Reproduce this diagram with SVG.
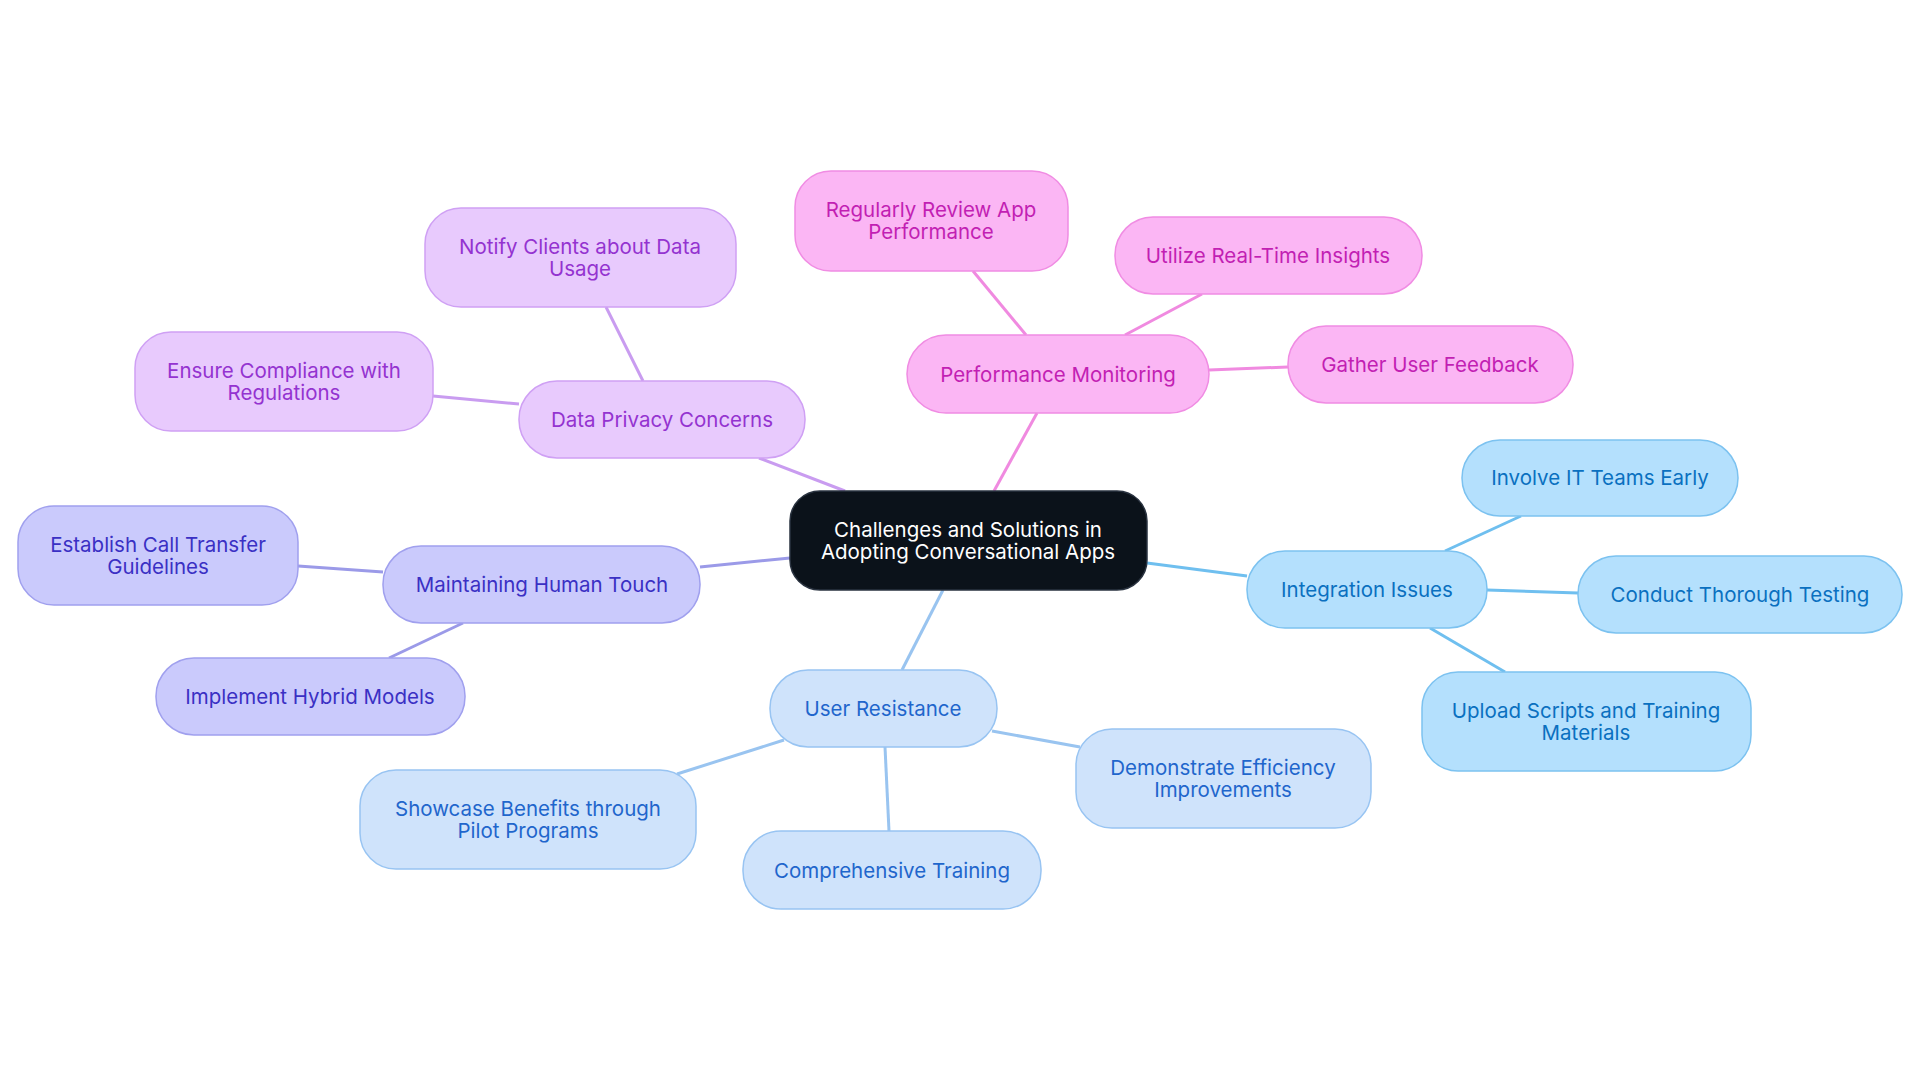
<svg xmlns="http://www.w3.org/2000/svg" width="1920" height="1083" viewBox="0 0 1920 1083">
<style>
text{font-family:Inter,"Open Sans","Liberation Sans",sans-serif;font-size:20.5px;text-anchor:middle;dominant-baseline:central}
rect{stroke-width:1.5}
.c rect{fill:#0b121a;stroke:#2a3340}.c text{fill:#fff}
.pk rect{fill:#fbb6f4;stroke:#f08ce3}.pk text{fill:#c21fb3}
.pu rect{fill:#e8cafd;stroke:#cfa0f4}.pu text{fill:#9433d0}
.in rect{fill:#cacafc;stroke:#a0a0ee}.in text{fill:#3a30c4}
.lb rect{fill:#cfe3fb;stroke:#98c4f2}.lb text{fill:#1f66cc}
.sk rect{fill:#b4e0fd;stroke:#7cc2f0}.sk text{fill:#0a70c0}
#edges line{stroke-width:3}
.epk{stroke:#f08ae0}.epu{stroke:#c99cf0}.ein{stroke:#9b9ae8}.elb{stroke:#99c4f0}.esk{stroke:#6fbfef}
</style>
<rect width="1920" height="1083" fill="#fff"/>
<g id="edges">
<line class="epk" x1="994" y1="491" x2="1037" y2="413"/>
<line class="epk" x1="1026" y1="335" x2="973" y2="271"/>
<line class="epk" x1="1125" y1="335" x2="1202" y2="294"/>
<line class="epk" x1="1209" y1="370" x2="1288" y2="367"/>
<line class="epu" x1="845" y1="491" x2="759" y2="458"/>
<line class="epu" x1="643" y1="381" x2="606" y2="307"/>
<line class="epu" x1="519" y1="404" x2="433" y2="396"/>
<line class="ein" x1="790" y1="558" x2="700" y2="567"/>
<line class="ein" x1="383" y1="572" x2="298" y2="566"/>
<line class="ein" x1="463" y1="623" x2="389" y2="658"/>
<line class="elb" x1="943" y1="590" x2="902" y2="670"/>
<line class="elb" x1="784" y1="740" x2="677" y2="774"/>
<line class="elb" x1="885" y1="747" x2="889" y2="831"/>
<line class="elb" x1="992" y1="731" x2="1080" y2="747"/>
<line class="esk" x1="1147" y1="563" x2="1247" y2="576"/>
<line class="esk" x1="1445" y1="551" x2="1521" y2="516"/>
<line class="esk" x1="1487" y1="590" x2="1578" y2="593"/>
<line class="esk" x1="1430" y1="628" x2="1505" y2="672"/>
</g>
<g id="center" class="c"><rect x="790" y="491" width="357" height="99" rx="30"/><text x="968" y="529">Challenges and Solutions in</text><text x="968" y="551">Adopting Conversational Apps</text></g>
<g id="pm" class="pk"><rect x="907" y="335" width="302" height="78" rx="39"/><text x="1058" y="374">Performance Monitoring</text></g>
<g id="rr" class="pk"><rect x="795" y="171" width="273" height="100" rx="36"/><text x="931" y="209">Regularly Review App</text><text x="931" y="231">Performance</text></g>
<g id="ut" class="pk"><rect x="1115" y="217" width="307" height="77" rx="38"/><text x="1268" y="255">Utilize Real-Time Insights</text></g>
<g id="gu" class="pk"><rect x="1288" y="326" width="285" height="77" rx="38"/><text x="1430" y="364">Gather User Feedback</text></g>
<g id="dp" class="pu"><rect x="519" y="381" width="286" height="77" rx="38"/><text x="662" y="419">Data Privacy Concerns</text></g>
<g id="nc" class="pu"><rect x="425" y="208" width="311" height="99" rx="36"/><text x="580" y="246">Notify Clients about Data</text><text x="580" y="268">Usage</text></g>
<g id="ec" class="pu"><rect x="135" y="332" width="298" height="99" rx="36"/><text x="284" y="370">Ensure Compliance with</text><text x="284" y="392">Regulations</text></g>
<g id="mh" class="in"><rect x="383" y="546" width="317" height="77" rx="38"/><text x="542" y="584">Maintaining Human Touch</text></g>
<g id="ct" class="in"><rect x="18" y="506" width="280" height="99" rx="36"/><text x="158" y="544">Establish Call Transfer</text><text x="158" y="566">Guidelines</text></g>
<g id="ih" class="in"><rect x="156" y="658" width="309" height="77" rx="38"/><text x="310" y="696">Implement Hybrid Models</text></g>
<g id="ur" class="lb"><rect x="770" y="670" width="227" height="77" rx="38"/><text x="883" y="708">User Resistance</text></g>
<g id="sb" class="lb"><rect x="360" y="770" width="336" height="99" rx="36"/><text x="528" y="808">Showcase Benefits through</text><text x="528" y="830">Pilot Programs</text></g>
<g id="tr" class="lb"><rect x="743" y="831" width="298" height="78" rx="38"/><text x="892" y="870">Comprehensive Training</text></g>
<g id="de" class="lb"><rect x="1076" y="729" width="295" height="99" rx="36"/><text x="1223" y="767">Demonstrate Efficiency</text><text x="1223" y="789">Improvements</text></g>
<g id="ii" class="sk"><rect x="1247" y="551" width="240" height="77" rx="38"/><text x="1367" y="589">Integration Issues</text></g>
<g id="it" class="sk"><rect x="1462" y="440" width="276" height="76" rx="38"/><text x="1600" y="477">Involve IT Teams Early</text></g>
<g id="cd" class="sk"><rect x="1578" y="556" width="324" height="77" rx="38"/><text x="1740" y="594">Conduct Thorough Testing</text></g>
<g id="us" class="sk"><rect x="1422" y="672" width="329" height="99" rx="36"/><text x="1586" y="710">Upload Scripts and Training</text><text x="1586" y="732">Materials</text></g>
</svg>
